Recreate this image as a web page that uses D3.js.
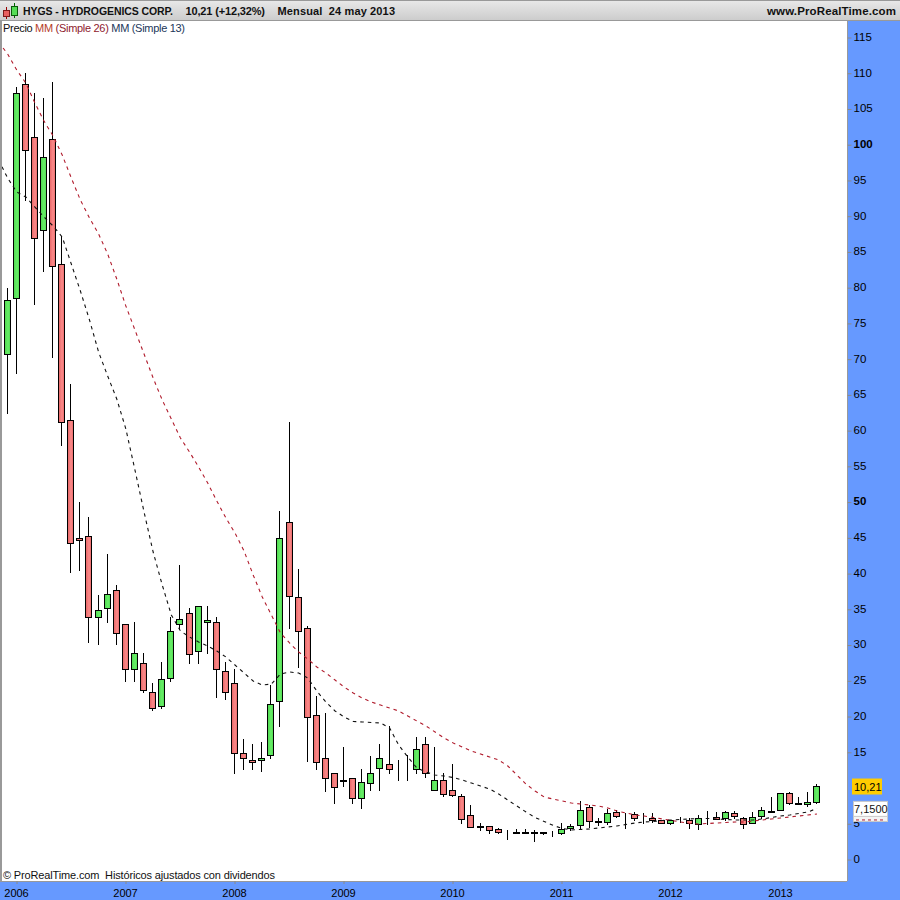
<!DOCTYPE html>
<html>
<head>
<meta charset="utf-8">
<script src="https://d3js.org/d3.v7.min.js"></script>
<style>
html, body { margin: 0; padding: 0; background: #fff; }
svg { display: block; font-family: "Liberation Sans", Arial, sans-serif; }
</style>
</head>
<body>
<script>
// monthly candles, Dec 2005 -> May 2013
const open = [70.68,78.51,108.45,101.04,88.03,100.76,83.27,61.44,44.94,45.21,33.88,35.14,37.66,32.9,26.61,27.45,23.39,21.43,25.35,32.9,34.44,29.13,33.18,33.18,26.33,24.65,14.86,13.88,13.88,14.58,22.13,47.17,36.68,32.34,20.17,14.16,12.06,11.08,11.36,8.56,10.66,12.76,13.32,12.62,12.62,12.62,16.12,9.68,11.08,9.68,8.84,6.18,4.64,4.64,4.22,3.67,3.75,3.75,3.75,3.75,3.67,3.67,4.36,4.78,7.3,5.34,5.2,6.6,6.18,6.32,5.76,5.76,5.48,5.06,5.48,5.48,4.92,5.76,5.9,5.76,6.46,5.76,5.06,6.04,6.74,6.88,9.26,7.86,7.72,7.99];
const high = [79.95,108.03,110.03,107.19,106.53,108.77,87.23,66.52,50.01,47.87,37,42.74,38.4,32.9,33.23,28.89,24.69,27.63,33.88,41.2,35.14,35.42,35.46,33.88,27.59,26.61,16.82,16.12,16.4,24.37,48.75,61.21,40.64,32.62,22.87,20.45,12.06,15.7,11.36,12.62,14.44,16.12,18.63,13.92,14.58,17.1,17.1,15.7,12.06,13.32,9.12,7.58,5.06,4.64,4.31,4.09,4.22,4.22,4.09,3.75,3.89,5.06,4.92,8.14,7.58,5.76,7.02,6.88,6.46,6.6,6.46,6.5,5.53,5.48,5.9,5.76,6.18,6.74,6.6,6.74,6.74,5.9,6.6,7.3,8.7,9.3,9.4,8.7,9.4,10.52];
const low = [62.42,68.02,92.26,77.67,82.23,70.2,57.89,40.12,40.4,30.33,30.05,33.13,30.05,24.87,24.87,23.34,20.82,21.1,24.87,32.2,27.39,27.39,28.79,22.64,22.36,12,12.56,12.56,12.28,14.1,18.58,32.29,26.83,13.68,12.56,9.49,7.81,10.18,7.81,7.11,9.63,9.63,12,11.02,11.02,12,11.44,9.68,8.79,8.79,5.06,4.5,4.03,3.61,3.67,2.77,3.61,3.61,2.49,3.47,3.19,3.47,4.03,4.22,4.5,4.73,4.87,5.85,4.31,5.43,5.06,5.2,5.06,4.92,5.2,4.41,4.27,4.92,5.62,5.43,5.76,4.41,5.06,5.76,6.55,6.88,7.72,7.72,7.44,7.86];
const close = [78.23,107.19,99.22,86.91,98.24,82.99,61.16,44.24,44.66,33.88,34.86,37.1,31.65,26.61,28.85,23.67,21.15,25.21,31.92,33.6,28.71,35.42,33.46,26.61,23.39,14.86,14.16,13.6,14.16,21.71,44.94,36.82,31.92,19.89,13.6,11.36,10.1,10.94,8.56,10.8,12.06,14.16,12.62,12.62,12.62,15.42,12.06,11.08,9.12,8.98,5.62,4.5,4.5,4.09,3.81,3.67,3.67,3.67,3.67,3.67,3.67,4.22,4.64,6.88,5.34,5.2,6.46,6.04,6.18,5.76,5.76,5.48,5.06,5.48,5.48,5.06,5.76,5.76,5.62,6.6,6.04,4.97,5.9,6.88,6.55,9.26,7.86,7.72,8,10.21];

// moving averages, first value sits one month before the first candle
const ma26 = [114.37,112.69,110.45,108.63,105.83,103.31,101.22,98.56,95.34,92.26,89.75,87.51,84.71,81.21,77.43,74.08,70.72,67.36,64.28,61.63,58.97,57.01,54.91,52.67,50.15,47.78,45.68,43.16,39.8,36.72,34.21,31.69,30.29,29.03,28.05,26.93,26.09,25.11,24.13,23.29,22.59,22.03,21.61,21.19,20.78,20.08,19.38,18.68,17.84,17,16.3,15.74,15.18,14.76,14.34,13.92,13.08,11.82,10.56,9.58,8.74,8.46,8.18,7.9,7.76,7.62,7.48,7.2,6.79,6.51,6.23,6.09,5.88,5.67,5.46,5.25,5.04,4.97,5.04,5.11,5.18,5.25,5.25,5.39,5.53,5.67,5.81,5.95,6.09,6.23,6.37];
const ma13 = [97.86,95.34,93.38,92.68,91.28,89.89,88.63,87.09,83.31,79.53,75.48,71,67.64,64.42,60.23,54.49,48.62,43.02,38.4,34.21,31.97,31.13,30.43,29.87,29.17,28.33,27.21,26.09,24.97,24.41,24.55,25.95,26.23,26.09,25.39,23.57,22.03,20.78,19.94,19.31,19.24,19.17,19.1,18.4,16.02,14.34,12.8,12.24,11.82,11.68,11.47,11.12,10.7,10.28,9.86,9.16,8.32,7.48,6.65,5.88,5.32,4.76,4.34,4.13,4.2,4.27,4.41,4.55,4.69,4.9,5.11,5.25,5.32,5.46,5.53,5.6,5.67,5.74,5.74,5.67,5.6,5.53,5.53,5.53,5.67,5.88,6.09,6.23,6.44,6.65,7.15];

const yearLabels = ["2006","2007","2008","2009","2010","2011","2012","2013"];
const yearIndex = [1,13,25,37,49,61,73,85];
// 10 is covered by the yellow price tag in the picture
const priceTicks = [0,5,15,20,25,30,35,40,45,50,55,60,65,70,75,80,85,90,95,100,105,110,115];
const boldTicks = [50,100];

const lastPrice = 10.21;
const lastMa13 = 7.15;

const W = 900, H = 900;
const plot = { left: 2, right: 847, top: 21, bottom: 881 };

const svg = d3.select("body").append("svg")
	.attr("width", W)
	.attr("height", H);

const defs = svg.append("defs");

function hGradient(id, edge, mid) {
	const g = defs.append("linearGradient").attr("id", id);
	g.append("stop").attr("offset", "0%").attr("stop-color", edge);
	g.append("stop").attr("offset", "60%").attr("stop-color", mid);
	g.append("stop").attr("offset", "100%").attr("stop-color", edge);
}
hGradient("upFill", "#4fd84f", "#68ee68");
hGradient("downFill", "#e56464", "#fb8a8a");

const barGrad = defs.append("linearGradient").attr("id", "barFill")
	.attr("x1", 0).attr("x2", 0).attr("y1", 0).attr("y2", 1);
barGrad.append("stop").attr("offset", "0%").attr("stop-color", "#e9e9e9");
barGrad.append("stop").attr("offset", "100%").attr("stop-color", "#cbcbcb");

defs.append("clipPath").attr("id", "plotClip").append("rect")
	.attr("x", plot.left).attr("y", plot.top)
	.attr("width", plot.right - plot.left).attr("height", plot.bottom - plot.top);

// background pieces
svg.append("rect").attr("width", W).attr("height", H).attr("fill", "#6699ff");
svg.append("rect")
	.attr("x", plot.left).attr("y", plot.top)
	.attr("width", plot.right - plot.left).attr("height", plot.bottom - plot.top)
	.attr("fill", "#fff");
svg.append("rect").attr("width", W).attr("height", 21).attr("fill", "url(#barFill)");
svg.append("rect").attr("width", W).attr("height", 1).attr("fill", "#999");
svg.append("rect").attr("y", 20).attr("width", W).attr("height", 1).attr("fill", "#999");
svg.append("rect").attr("y", 21).attr("width", 2).attr("height", 860).attr("fill", "#999");
svg.append("rect").attr("x", 847).attr("y", 21).attr("width", 1).attr("height", 860).attr("fill", "#999");
svg.append("rect").attr("y", 881).attr("width", 847).attr("height", 1).attr("fill", "#999");

const x = d3.scaleLinear().domain([0, 89]).range([7.15, 816.5]);
const y = d3.scaleLinear().domain([0, 115]).range([859.5, 37.5]);

const snapX = v => Math.floor(v) + 0.5;
const snapY = v => Math.floor(v + 0.2) + 0.5;

// axes
const yAxis = d3.axisRight(y)
	.tickValues(priceTicks)
	.tickSize(4)
	.tickPadding(2)
	.tickFormat(d3.format("d"));

const yG = svg.append("g")
	.attr("transform", `translate(${plot.right + 0.5},0)`)
	.call(yAxis);
yG.select(".domain").remove();
yG.selectAll(".tick line").attr("stroke", "#8a8a8a");
yG.selectAll(".tick text")
	.attr("x", 6)
	.attr("dy", "0.25em")
	.attr("fill", "#000")
	.attr("font-size", "11.5px")
	.attr("font-family", "Liberation Sans")
	.attr("font-weight", d => boldTicks.includes(d) ? "bold" : "normal");

const xAxis = d3.axisBottom(d3.scaleOrdinal().domain(yearLabels).range(yearIndex.map(i => snapX(x(i)))))
	.tickSize(3)
	.tickPadding(5);

const xG = svg.append("g")
	.attr("transform", `translate(0,${plot.bottom})`)
	.call(xAxis);
xG.select(".domain").remove();
xG.selectAll(".tick line").attr("stroke", "#8a8a8a");
xG.selectAll(".tick text")
	.attr("x", -0.5)
	.attr("fill", "#000")
	.attr("font-size", "11px")
	.attr("font-family", "Liberation Sans");

// chart area
const chart = svg.append("g").attr("clip-path", "url(#plotClip)");

const candles = close.map((c, i) => ({ i, o: open[i], h: high[i], l: low[i], c }));

chart.selectAll("line.wick").data(candles).join("line")
	.attr("class", "wick")
	.attr("x1", d => snapX(x(d.i)))
	.attr("x2", d => snapX(x(d.i)))
	.attr("y1", d => snapY(y(d.h)) - 0.5)
	.attr("y2", d => snapY(y(d.l)) + 0.5)
	.attr("stroke", "#000")
	.attr("stroke-width", 1);

chart.selectAll("rect.body").data(candles).join("rect")
	.attr("class", "body")
	.attr("x", d => snapX(x(d.i)) - 3)
	.attr("width", 6)
	.attr("y", d => snapY(y(Math.max(d.o, d.c))))
	.attr("height", d => snapY(y(Math.min(d.o, d.c))) - snapY(y(Math.max(d.o, d.c))))
	.attr("fill", d => d.c >= d.o ? "url(#upFill)" : "url(#downFill)")
	.attr("stroke", "#000")
	.attr("stroke-width", 1);

const maLine = d3.line()
	.x((d, i) => x(i - 1) + 0.5)
	.y(d => y(d));

chart.append("path")
	.datum(ma26)
	.attr("d", maLine)
	.attr("fill", "none")
	.attr("stroke", "#b01b2c")
	.attr("stroke-width", 1.1)
	.attr("stroke-dasharray", "3.5,4");

chart.append("path")
	.datum(ma13)
	.attr("d", maLine)
	.attr("fill", "none")
	.attr("stroke", "#111")
	.attr("stroke-width", 1.1)
	.attr("stroke-dasharray", "3.5,4");

// last value tags on the price axis
const tagMa26 = svg.append("g").attr("transform", `translate(853,${y(ma26[ma26.length - 1])})`);
tagMa26.append("rect").attr("x", 0.5).attr("y", -7.5).attr("width", 34).attr("height", 15)
	.attr("fill", "#f4f4f4").attr("stroke", "#c9c9c9");
tagMa26.append("line").attr("x1", 3).attr("x2", 33).attr("y1", 6).attr("y2", 6)
	.attr("stroke", "#b01b2c").attr("stroke-dasharray", "3,3");

const tagMa13 = svg.append("g").attr("transform", `translate(853,${y(lastMa13) + 0.5})`);
tagMa13.append("rect").attr("x", 0.5).attr("y", -7.5).attr("width", 34).attr("height", 15)
	.attr("fill", "#fff").attr("stroke", "#c9c9c9");
tagMa13.append("text").attr("x", 1).attr("y", 4.5).attr("font-size", "11px").attr("fill", "#111")
	.text(d3.format(".4f")(lastMa13).replace(".", ","));

const tagPrice = svg.append("g").attr("transform", `translate(852,${y(lastPrice)})`);
tagPrice.append("rect").attr("x", 0).attr("y", -8).attr("width", 30).attr("height", 16)
	.attr("fill", "#ffcc00");
tagPrice.append("text").attr("x", 2).attr("y", 4.5).attr("font-size", "11px").attr("fill", "#000")
	.text(String(lastPrice).replace(".", ","));

// header icon
const icon = svg.append("g");
icon.append("line").attr("x1", 6.5).attr("x2", 6.5).attr("y1", 7).attr("y2", 19).attr("stroke", "#900");
icon.append("rect").attr("x", 3.5).attr("y", 10.5).attr("width", 6).attr("height", 6)
	.attr("fill", "#e86060").attr("stroke", "#7a1a1a");
icon.append("line").attr("x1", 14.5).attr("x2", 14.5).attr("y1", 3).attr("y2", 18).attr("stroke", "#060");
icon.append("rect").attr("x", 11.5).attr("y", 6.5).attr("width", 6).attr("height", 9)
	.attr("fill", "#55dd55").attr("stroke", "#0a5a0a");

// header text, widths squeezed to match the reference font
const headerText = [
	{ x: 23, w: 150, size: 10.5, t: "HYGS - HYDROGENICS CORP." },
	{ x: 185.5, w: 79.5, size: 11, t: "10,21 (+12,32%)" },
	{ x: 277.5, w: 117.5, size: 11, t: "Mensual  24 may 2013" },
	{ x: 767, w: 129, size: 11.5, t: "www.ProRealTime.com" }
];
svg.selectAll("text.head").data(headerText).join("text")
	.attr("class", "head")
	.attr("x", d => d.x)
	.attr("y", 15)
	.attr("font-size", d => d.size + "px")
	.attr("font-weight", "bold")
	.attr("fill", "#111")
	.attr("textLength", d => d.w)
	.attr("lengthAdjust", "spacing")
	.style("white-space", "pre")
	.text(d => d.t);

// legend line
const legendParts = [
	{ t: "Precio ", c: "#111" },
	{ t: "MM ", c: "#b5402a" },
	{ t: "(Simple 26) ", c: "#8e1a2e" },
	{ t: "MM ", c: "#22375a" },
	{ t: "(Simple 13)", c: "#22375a" }
];
svg.append("text")
	.attr("x", 3)
	.attr("y", 32)
	.attr("font-size", "11px")
	.attr("textLength", 182)
	.attr("lengthAdjust", "spacing")
	.style("white-space", "pre")
	.selectAll("tspan").data(legendParts).join("tspan")
	.attr("fill", d => d.c)
	.text(d => d.t);

svg.append("text")
	.attr("x", 3)
	.attr("y", 879)
	.attr("font-size", "11px")
	.attr("fill", "#111")
	.attr("textLength", 272)
	.attr("lengthAdjust", "spacing")
	.style("white-space", "pre")
	.text("© ProRealTime.com  Históricos ajustados con dividendos");
</script>
</body>
</html>
